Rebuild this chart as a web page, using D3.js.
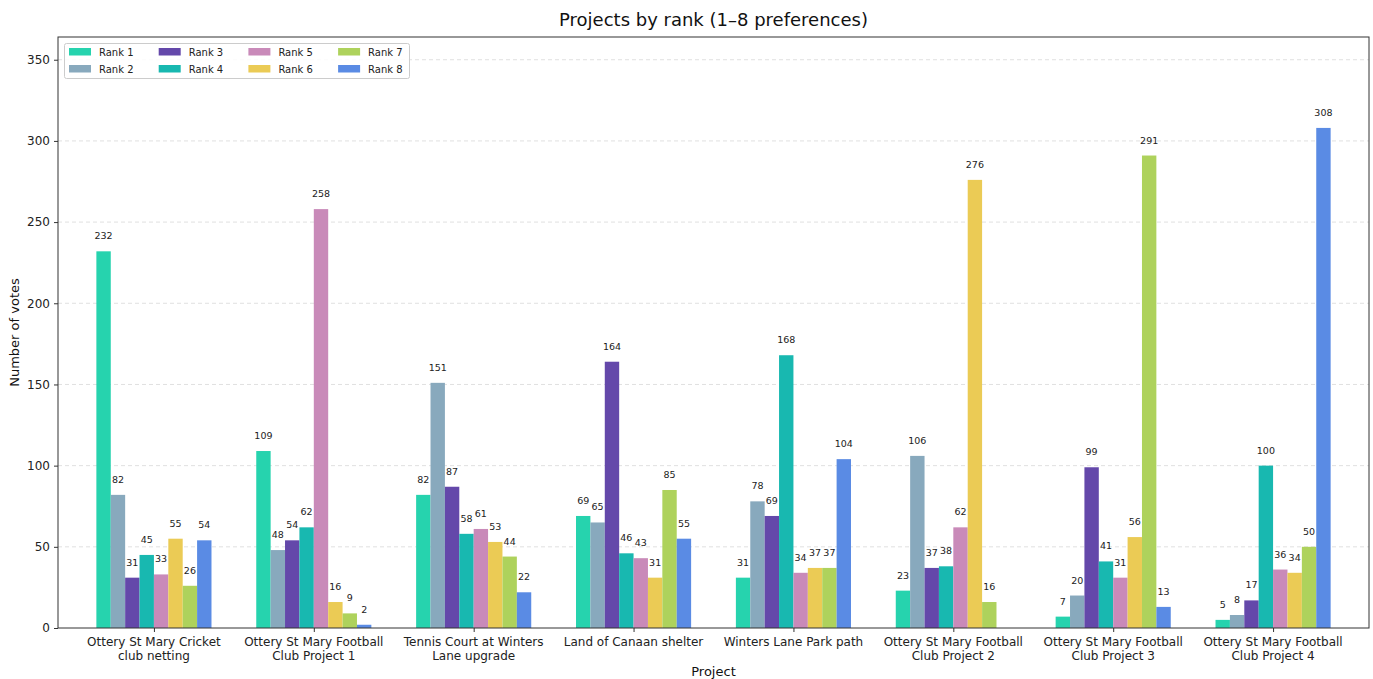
<!DOCTYPE html>
<html><head><meta charset="utf-8">
<script src="https://cdn.jsdelivr.net/npm/d3@7"></script>
<style>body{margin:0;background:#fff;font-family:"DejaVu Sans",sans-serif;}</style>
</head><body><svg id="c" width="1373" height="679"></svg>
<script>
const projects = [
  ["Ottery St Mary Cricket","club netting"],
  ["Ottery St Mary Football","Club Project 1"],
  ["Tennis Court at Winters","Lane upgrade"],
  ["Land of Canaan shelter"],
  ["Winters Lane Park path"],
  ["Ottery St Mary Football","Club Project 2"],
  ["Ottery St Mary Football","Club Project 3"],
  ["Ottery St Mary Football","Club Project 4"]
];
const ranks = ["Rank 1","Rank 2","Rank 3","Rank 4","Rank 5","Rank 6","Rank 7","Rank 8"];
const rank1 = [232,109,82,69,31,23,7,5];
const rank2 = [82,48,151,65,78,106,20,8];
const rank3 = [31,54,87,164,69,37,99,17];
const rank4 = [45,62,58,46,168,38,41,100];
const rank5 = [33,258,61,43,34,62,31,36];
const rank6 = [55,16,53,31,37,276,56,34];
const rank7 = [26,9,44,85,37,16,291,50];
const rank8 = [54,2,22,55,104,0,13,308];
const series = [rank1,rank2,rank3,rank4,rank5,rank6,rank7,rank8];
const colors = ["#26d3ae","#88a9bd","#6448aa","#18b8b0","#c98ab9","#ebcb55","#aed25c","#5a8be4"];
const yTicks = [0,50,100,150,200,250,300,350];

const svg = d3.select("#c");
const L=58,R=1369,T=37,B=628;
const x = d3.scaleLinear().domain([-0.6,7.6]).range([L,R]);
const y = d3.scaleLinear().domain([0,364]).range([B,T]);
const bw = 0.09;

// grid
svg.append("g").selectAll("line").data(yTicks.slice(1)).join("line")
  .attr("x1",L).attr("x2",R).attr("y1",d=>y(d)).attr("y2",d=>y(d))
  .attr("stroke","#d8d8d8").attr("stroke-width",0.8).attr("stroke-dasharray","4,3");

// bars
series.forEach((vals,k)=>{
  const g = svg.append("g");
  const off = (k-3.5)*bw;
  const data = vals.map((v,i)=>({v,i}));
  g.selectAll("rect").data(data).join("rect")
    .attr("x",d=>x(d.i+off-bw/2)).attr("width",x(bw)-x(0))
    .attr("y",d=>y(d.v)).attr("height",d=>y(0)-y(d.v))
    .attr("fill",colors[k]);
  g.selectAll("text").data(data.filter(d=>d.v>0)).join("text")
    .attr("x",d=>x(d.i+off)).attr("y",d=>y(d.v)-12)
    .attr("text-anchor","middle").attr("font-size",9.5).attr("fill","#222")
    .text(d=>d.v);
});

// axes
const yAxis = d3.axisLeft(y).tickValues(yTicks).tickSize(4).tickPadding(4);
const ga = svg.append("g").attr("transform",`translate(${L},0)`).call(yAxis);
ga.select(".domain").remove();
ga.selectAll("text").attr("font-size",12).attr("font-family","DejaVu Sans").attr("fill","#222");
ga.selectAll("line").attr("stroke","#333");

const xAxis = d3.axisBottom(x).tickValues(d3.range(8)).tickSize(4).tickFormat("");
const gx = svg.append("g").attr("transform",`translate(0,${B})`).call(xAxis);
gx.select(".domain").remove();
gx.selectAll("line").attr("stroke","#333");
projects.forEach((lines,i)=>{
  const t = svg.append("text").attr("x",x(i)).attr("y",B+18).attr("text-anchor","middle")
    .attr("font-size",12).attr("fill","#222");
  lines.forEach((l,j)=>t.append("tspan").attr("x",x(i)).attr("dy",j?14:0).text(l));
});

svg.append("rect").attr("x",L).attr("y",T).attr("width",R-L).attr("height",B-T)
  .attr("fill","none").attr("stroke","#333").attr("stroke-width",1);

// titles
svg.append("text").attr("x",(L+R)/2).attr("y",26).attr("text-anchor","middle")
  .attr("font-size",18).attr("fill","#111").text("Projects by rank (1–8 preferences)");
svg.append("text").attr("x",(L+R)/2).attr("y",676).attr("text-anchor","middle")
  .attr("font-size",13).attr("fill","#111").text("Project");
svg.append("text").attr("transform",`translate(19,${(T+B)/2}) rotate(-90)`).attr("text-anchor","middle")
  .attr("font-size",13).attr("fill","#111").text("Number of votes");

// legend
const lg = svg.append("g");
lg.append("rect").attr("x",64.5).attr("y",43.5).attr("width",345).attr("height",35).attr("rx",2)
  .attr("fill","#fff").attr("fill-opacity",0.85).attr("stroke","#ccc");
ranks.forEach((r,k)=>{
  const col=Math.floor(k/2), row=k%2;
  const lx=69+col*89.7, ly=48+row*17;
  lg.append("rect").attr("x",lx).attr("y",ly).attr("width",22).attr("height",7.5).attr("fill",colors[k]);
  lg.append("text").attr("x",lx+30).attr("y",ly+7.5).attr("font-size",10).attr("fill","#222").text(r);
});
</script></body></html>
